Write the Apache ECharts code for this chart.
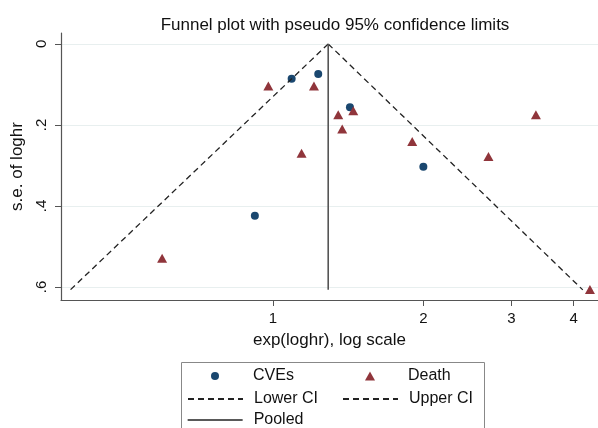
<!DOCTYPE html>
<html>
<head>
<meta charset="utf-8">
<script src="https://cdn.jsdelivr.net/npm/echarts@6/dist/echarts.min.js"></script>
<style>
	html, body { margin: 0; padding: 0; background: #fff; }
	#funnel { width: 598px; height: 428px; }
</style>
</head>
<body>
<div id="funnel"></div>
<script>
	// values: [exp(loghr), s.e.]
	var cves = [[1.09, 0.086], [1.232, 0.074], [1.426, 0.156], [2.0, 0.303], [0.92, 0.424]];
	var death = [[0.979, 0.104], [1.208, 0.104], [1.448, 0.165], [1.351, 0.175], [1.376, 0.21],
		[3.36, 0.175], [1.90, 0.241], [1.141, 0.27], [2.70, 0.278], [4.31, 0.606], [0.60, 0.529]];
	var lowerCI = [[1.29, 0], [0.393, 0.607]];
	var upperCI = [[1.29, 0], [4.17, 0.607]];
	var pooled = [[1.29, 0], [1.29, 0.607]];
	var xTicks = [1, 2, 3, 4];
	var yTicks = [0, 0.2, 0.4, 0.6];
	var yTickLabels = ['0', '.2', '.4', '.6'];

	var font = 'Liberation Sans, Arial, sans-serif';
	function legText(padLeft) {
		return { fontSize: 16, color: '#111', lineHeight: 16, padding: [0, 0, 0, padLeft] };
	}
	function legendItem(name, left, top, extra) {
		var l = {
			data: [name], left: left, top: top, padding: 0,
			itemWidth: 55, itemHeight: 8, textStyle: legText(6)
		};
		for (var k in extra) l[k] = extra[k];
		return l;
	}

	var chart = echarts.init(document.getElementById('funnel'));
	chart.setOption({
		animation: false,
		textStyle: { fontFamily: font },
		title: {
			text: 'Funnel plot with pseudo 95% confidence limits',
			left: 330, top: 12, textAlign: 'center',
			textStyle: { fontSize: 17, fontWeight: 'normal', color: '#111' }
		},
		grid: { left: 61, right: 0, top: 33, bottom: 128 },
		xAxis: {
			type: 'log', logBase: 10, min: 0.3765, max: 4.473,
			name: 'exp(loghr), log scale', nameLocation: 'middle', nameGap: 32,
			nameTextStyle: { fontSize: 17, color: '#111' },
			axisLine: { onZero: false, lineStyle: { color: '#555', width: 1.2 } },
			axisTick: { customValues: xTicks, length: 6, lineStyle: { color: '#555' } },
			axisLabel: { customValues: xTicks, fontSize: 15, color: '#111', margin: 11 },
			splitLine: { show: false },
			minorTick: { show: false }
		},
		yAxis: {
			type: 'value', inverse: true, min: -0.027, max: 0.632,
			name: 's.e. of loghr', nameLocation: 'middle', nameGap: 33, nameRotate: 90,
			nameTextStyle: { fontSize: 17, color: '#111' },
			axisLine: { show: true, onZero: false, lineStyle: { color: '#555', width: 1.2 } },
			axisTick: { show: true, customValues: yTicks, length: 6, lineStyle: { color: '#555' } },
			axisLabel: {
				customValues: yTicks, fontSize: 15, color: '#111', rotate: 90, margin: 12,
				formatter: function (v) { return yTickLabels[yTicks.indexOf(Math.round(v * 10) / 10)]; }
			},
			splitLine: { show: true, lineStyle: { color: '#e8efef', width: 1 } }
		},
		legend: [
			legendItem('CVEs', 211, 368, { itemWidth: 8, textStyle: legText(29) }),
			legendItem('Death', 365, 368, { itemWidth: 10, itemHeight: 9, textStyle: legText(28) }),
			legendItem('Lower CI', 187, 391, { itemStyle: { opacity: 0 } }),
			legendItem('Upper CI', 342, 391, { itemStyle: { opacity: 0 } }),
			legendItem('Pooled', 187, 412, { itemStyle: { opacity: 0 }, lineStyle: { color: '#222', width: 1.3 } })
		],
		graphic: [{
			type: 'rect', left: 179, top: 360, silent: true,
			shape: { width: 303, height: 90 },
			style: { fill: 'none', stroke: '#888', lineWidth: 1 }
		}],
		series: [{
			name: 'Lower CI', type: 'line', data: lowerCI, symbol: 'none',
			lineStyle: { color: '#222', width: 1.3, type: [6, 4] }, itemStyle: { color: '#222' }
		}, {
			name: 'Upper CI', type: 'line', data: upperCI, symbol: 'none',
			lineStyle: { color: '#222', width: 1.3, type: [6, 4] }, itemStyle: { color: '#222' }
		}, {
			name: 'Pooled', type: 'line', data: pooled, symbol: 'none',
			lineStyle: { color: '#555', width: 1.6 }, itemStyle: { color: '#333' }
		}, {
			name: 'CVEs', type: 'scatter', data: cves, symbol: 'circle', symbolSize: 8,
			itemStyle: { color: '#1a476f', opacity: 1 }
		}, {
			name: 'Death', type: 'scatter', data: death, symbol: 'triangle', symbolSize: [10, 9],
			itemStyle: { color: '#90353b', opacity: 1 }
		}]
	});
</script>
</body>
</html>
